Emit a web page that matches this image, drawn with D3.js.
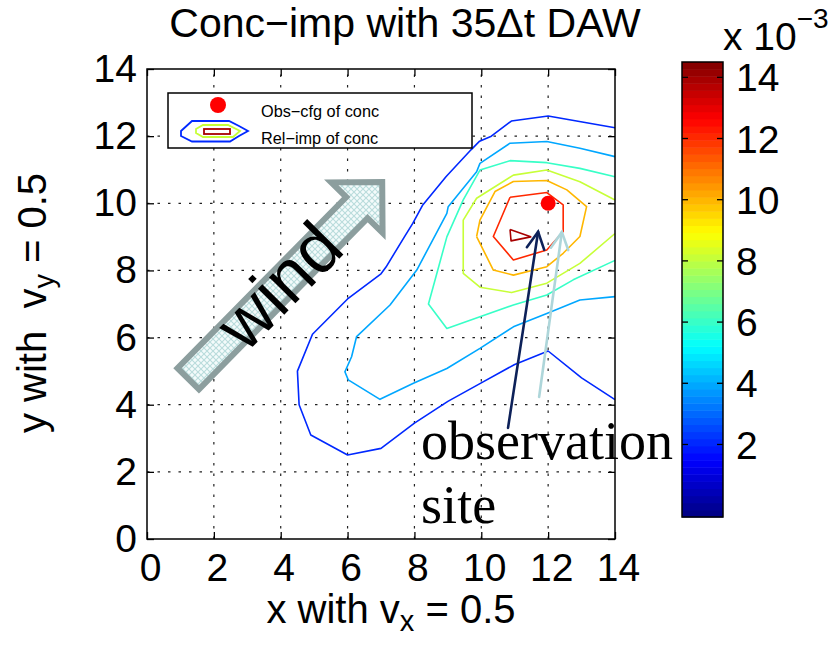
<!DOCTYPE html>
<html><head><meta charset="utf-8">
<script src="https://cdn.jsdelivr.net/npm/d3@7"></script>
<style>body{margin:0;background:#fff}</style>
</head><body>
<svg id="chart" width="831" height="649"></svg>
<script>
// ---- data -------------------------------------------------------------
const xTicks = [0, 2, 4, 6, 8, 10, 12, 14];
const yTicks = [0, 2, 4, 6, 8, 10, 12, 14];
const cbTicks = [2, 4, 6, 8, 10, 12, 14];          // colour bar, ×10^-3
const cbRange = [-0.37, 14.5];                     // colour limits, ×10^-3
const levels = [2, 4, 6, 8, 10, 12, 14];           // contour levels, ×10^-3

// contour lines of the relative concentration improvement, [x, y] grid units
const c2 = [[14,12.25],[12,12.6],[10.9,12.45],[10.3,12.0],[9.95,11.85],[9.7,11.6],[8.95,10.8],[8.25,9.95],[7.95,9.4],[7.7,9.0],[7.15,8.1],[7.0,7.9],[6.0,7.15],[4.95,6.1],[4.5,5.0],[4.55,4.0],[4.9,3.1],[6.0,2.5],[7.0,2.7],[8.0,3.45],[9.0,4.1],[10.0,4.65],[11.0,5.2],[12.0,5.6],[13.0,4.8],[14,4.15]];
const c4 = [[14,11.39],[12.95,11.64],[11.96,11.84],[10.86,11.79],[9.96,11.19],[9.86,10.94],[9.01,9.9],[8.97,9.7],[8.07,8.01],[7.27,6.97],[6.27,6.03],[6.12,5.43],[5.92,4.98],[6.02,4.74],[6.97,4.16],[7.97,4.64],[8.97,5.08],[9.96,5.68],[10.96,6.32],[11.96,6.72],[12.95,7.12],[14,7.22]];
const c6 = [[14,10.79],[12.95,11.04],[11.96,11.21],[10.86,11.27],[9.96,10.99],[9.46,10.1],[8.97,9.0],[8.67,7.91],[8.42,7.0],[8.97,6.27],[9.96,6.62],[10.96,6.97],[11.96,7.27],[12.75,7.72],[14,8.3]];
const c8 = [[14,10.1],[12.95,10.64],[11.96,10.99],[10.96,10.84],[9.86,10.15],[9.46,9.5],[9.46,7.91],[9.96,7.5],[10.91,7.34],[11.96,7.62],[12.95,8.21],[14,9.1]];
const c10 = [[9.86,9.01],[9.96,9.5],[10.41,10.35],[10.96,10.65],[11.96,10.68],[12.56,10.4],[13.15,9.9],[12.95,9.01],[12.45,8.51],[11.96,8.11],[10.96,7.86],[10.36,8.01],[9.86,9.01]];
const c12 = [[10.86,10.18],[11.96,10.32],[12.45,9.95],[12.45,9.16],[11.96,8.61],[10.96,8.31],[10.36,9.01],[10.86,10.18]];
const c14 = [[10.86,9.22],[11.48,9.0],[10.89,8.88],[10.86,9.22]];
const contourLines = [c2, c4, c6, c8, c10, c12, c14];

const obsSite = [12, 10];                          // observation configuration
const windArrow = {tail: [1.17, 4.71], tip: [7.12, 10.72], label: [4.01, 7.48]};
const siteArrows = [
  {tail: [10.8, 3.31], tip: [11.70, 9.15], color: "#0d2159"},
  {tail: [11.73, 4.23], tip: [12.41, 9.14], color: "#aed6da"}
];
const siteLabel = {pos: [8.2, 2.38], lines: ["observation", "site"]};

// ---- layout -----------------------------------------------------------
const svg = d3.select("#chart");
const x = d3.scaleLinear([0, 14], [147, 615]);
const y = d3.scaleLinear([0, 14], [539, 69]);
const cbY = d3.scaleLinear(cbRange, [517, 62]);
const cbX0 = 682, cbX1 = 723;
const SANS = "'Liberation Sans', Arial, Helvetica, sans-serif";
const SERIF = "'Liberation Serif', 'Times New Roman', serif";

// MATLAB-style jet colour map with 64 entries
function jet(t) {
  const k = Math.min(63, Math.max(0, Math.floor(t * 64)));
  const v = (k + 0.5) / 64;
  const c = f => Math.round(255 * Math.max(0, Math.min(1, f)));
  return d3.rgb(c(1.5 - Math.abs(4 * v - 3)), c(1.5 - Math.abs(4 * v - 2)), c(1.5 - Math.abs(4 * v - 1)));
}
const levelColor = v => jet((v - cbRange[0]) / (cbRange[1] - cbRange[0]));

// ---- grid -------------------------------------------------------------
const grid = svg.append("g").attr("stroke", "#222").attr("stroke-width", 1.2).attr("stroke-dasharray", "2.5,8");
xTicks.filter(t => t > 0 && t < 14).forEach(t =>
  grid.append("line").attr("x1", x(t)).attr("x2", x(t)).attr("y1", y(0)).attr("y2", y(14)));
yTicks.filter(t => t > 0 && t < 14).forEach(t =>
  grid.append("line").attr("y1", y(t)).attr("y2", y(t)).attr("x1", x(0)).attr("x2", x(14)));

// ---- contours ---------------------------------------------------------
const line = d3.line().x(d => x(d[0])).y(d => y(d[1]));
const plot = svg.append("g");
contourLines.forEach((pts, i) => {
  plot.append("path").attr("d", line(pts)).attr("fill", "none")
    .attr("stroke", levelColor(levels[i])).attr("stroke-width", 1.6).attr("stroke-linejoin", "round");
});

// observation configuration
plot.append("circle").attr("cx", x(obsSite[0])).attr("cy", y(obsSite[1])).attr("r", 7.5).attr("fill", "#ff0000");

// ---- axes -------------------------------------------------------------
const fontAxis = 39;
function styleAxis(g) {
  g.select(".domain").remove();
  g.selectAll(".tick line").attr("stroke", "#000").attr("stroke-width", 1.3);
  g.selectAll("text").attr("font-family", SANS).attr("font-size", fontAxis).attr("fill", "#000");
}
svg.append("g").attr("transform", `translate(0,${y(0)})`)
  .call(d3.axisBottom(x).tickValues(xTicks).tickSizeInner(-7).tickSizeOuter(0).tickPadding(14).tickFormat(d3.format("d")))
  .call(styleAxis).selectAll("text").attr("dx", 3);
svg.append("g").attr("transform", `translate(${x(0)},0)`)
  .call(d3.axisLeft(y).tickValues(yTicks).tickSizeInner(-7).tickSizeOuter(0).tickPadding(10).tickFormat(d3.format("d")))
  .call(styleAxis);
svg.append("g").attr("transform", `translate(0,${y(14)})`)
  .call(d3.axisTop(x).tickValues(xTicks).tickSizeInner(-7).tickSizeOuter(0).tickFormat(""))
  .call(styleAxis);
svg.append("g").attr("transform", `translate(${x(14)},0)`)
  .call(d3.axisRight(y).tickValues(yTicks).tickSizeInner(-7).tickSizeOuter(0).tickFormat(""))
  .call(styleAxis);
svg.append("rect").attr("x", x(0)).attr("y", y(14)).attr("width", x(14) - x(0)).attr("height", y(0) - y(14))
  .attr("fill", "none").attr("stroke", "#000").attr("stroke-width", 1.5);

// ---- title and axis labels -------------------------------------------
svg.append("text").attr("x", 405).attr("y", 37).attr("text-anchor", "middle")
  .attr("font-family", SANS).attr("font-size", 41).text("Conc\u2212imp with 35\u0394t DAW");

const xl = svg.append("text").attr("x", 391).attr("y", 623).attr("text-anchor", "middle")
  .attr("font-family", SANS).attr("font-size", 40);
xl.append("tspan").text("x with v");
xl.append("tspan").attr("font-size", 29).attr("dy", 8).text("x");
xl.append("tspan").attr("dy", -8).text(" = 0.5");

const yl = svg.append("text").attr("transform", "translate(46,303) rotate(-90)").attr("text-anchor", "middle")
  .attr("font-family", SANS).attr("font-size", 40).attr("xml:space", "preserve");
yl.append("tspan").text("y with  v");
yl.append("tspan").attr("font-size", 29).attr("dy", 8).text("y");
yl.append("tspan").attr("dy", -8).text(" = 0.5");

// ---- legend -----------------------------------------------------------
const lg = svg.append("g");
lg.append("rect").attr("x", 168).attr("y", 93).attr("width", 304).attr("height", 55)
  .attr("fill", "#fff").attr("stroke", "#000").attr("stroke-width", 1.5);
lg.append("circle").attr("cx", 218).attr("cy", 105).attr("r", 8).attr("fill", "#ff0000");
lg.append("polygon").attr("points", "181,131 192,121 229,121 239,126 248,131 239,136 230,141.5 192,141.5 181,136")
  .attr("fill", "none").attr("stroke", levelColor(2)).attr("stroke-width", 1.8);
lg.append("polygon").attr("points", "196,129 203,125 228,125 240,131 233,137 203,137 196,133")
  .attr("fill", "none").attr("stroke", levelColor(8)).attr("stroke-width", 1.8);
lg.append("rect").attr("x", 204).attr("y", 129).attr("width", 26).attr("height", 5)
  .attr("fill", "none").attr("stroke", levelColor(14)).attr("stroke-width", 1.8);
lg.append("text").attr("x", 261).attr("y", 117).attr("font-family", SANS).attr("font-size", 16.3).text("Obs\u2212cfg of conc");
lg.append("text").attr("x", 261).attr("y", 144).attr("font-family", SANS).attr("font-size", 16.3).text("Rel\u2212imp of conc");

// ---- wind arrow -------------------------------------------------------
const defs = svg.append("defs");
const pat = defs.append("pattern").attr("id", "hatch").attr("patternUnits", "userSpaceOnUse").attr("width", 6).attr("height", 6);
pat.append("rect").attr("width", 6).attr("height", 6).attr("fill", "#f4fbfb");
pat.append("path").attr("d", "M0,0L6,6M6,0L0,6").attr("stroke", "#b9dcdc").attr("stroke-width", 1.1);
{
  const T = [x(windArrow.tail[0]), y(windArrow.tail[1])];
  const P = [x(windArrow.tip[0]), y(windArrow.tip[1])];
  const L = Math.hypot(P[0] - T[0], P[1] - T[1]);
  const u = [(P[0] - T[0]) / L, (P[1] - T[1]) / L];
  const n = [-u[1], u[0]];
  const sw = 15, hw = 36, hl = 36;
  const tip = [P[0] - u[0] * 4, P[1] - u[1] * 4];
  const tl = [T[0] + u[0] * 3, T[1] + u[1] * 3];
  const base = [tip[0] - u[0] * hl, tip[1] - u[1] * hl];
  const pt = (p, k) => [p[0] + n[0] * k, p[1] + n[1] * k];
  const poly = [pt(tl, sw), pt(base, sw), pt(base, hw), tip, pt(base, -hw), pt(base, -sw), pt(tl, -sw)];
  svg.append("polygon").attr("points", poly.map(p => p.join(",")).join(" "))
    .attr("fill", "url(#hatch)").attr("stroke", "#8c9e9e").attr("stroke-width", 6).attr("stroke-linejoin", "miter");
  const ang = Math.atan2(u[1], u[0]) * 180 / Math.PI;
  svg.append("text").attr("transform", `translate(${x(windArrow.label[0])},${y(windArrow.label[1])}) rotate(${ang})`)
    .attr("text-anchor", "middle").attr("dy", "0.3em").attr("font-family", SANS).attr("font-size", 70).text("wind");
}

// ---- observation-site pointers ---------------------------------------
siteArrows.forEach(a => {
  const T = [x(a.tail[0]), y(a.tail[1])];
  const P = [x(a.tip[0]), y(a.tip[1])];
  const L = Math.hypot(P[0] - T[0], P[1] - T[1]);
  const u = [(T[0] - P[0]) / L, (T[1] - P[1]) / L];
  const rot = (v, a) => [v[0] * Math.cos(a) - v[1] * Math.sin(a), v[0] * Math.sin(a) + v[1] * Math.cos(a)];
  const b1 = rot(u, 0.48), b2 = rot(u, -0.48), bl = 19;
  const g = svg.append("g").attr("stroke", a.color).attr("stroke-width", 2.6).attr("fill", "none").attr("stroke-linecap", "round");
  g.append("line").attr("x1", T[0]).attr("y1", T[1]).attr("x2", P[0]).attr("y2", P[1]);
  g.append("path").attr("d", `M${P[0] + b1[0] * bl},${P[1] + b1[1] * bl}L${P[0]},${P[1]}L${P[0] + b2[0] * bl},${P[1] + b2[1] * bl}`);
});
const st = svg.append("text").attr("font-family", SERIF).attr("font-size", 54).attr("fill", "#000");
siteLabel.lines.forEach((s, i) =>
  st.append("tspan").attr("x", x(siteLabel.pos[0])).attr("y", y(siteLabel.pos[1]) + i * 64).text(s));

// ---- colour bar -------------------------------------------------------
const cb = svg.append("g");
const nBands = 64;
for (let k = 0; k < nBands; k++) {
  const v0 = cbRange[0] + (cbRange[1] - cbRange[0]) * k / nBands;
  const v1 = cbRange[0] + (cbRange[1] - cbRange[0]) * (k + 1) / nBands;
  cb.append("rect").attr("x", cbX0).attr("width", cbX1 - cbX0)
    .attr("y", cbY(v1)).attr("height", cbY(v0) - cbY(v1) + 0.5)
    .attr("fill", jet((k + 0.5) / nBands));
}
cbTicks.forEach(t => {
  cb.append("line").attr("x1", cbX0).attr("x2", cbX0 + 6).attr("y1", cbY(t)).attr("y2", cbY(t)).attr("stroke", "#000").attr("stroke-width", 1.3);
  cb.append("line").attr("x1", cbX1 - 6).attr("x2", cbX1).attr("y1", cbY(t)).attr("y2", cbY(t)).attr("stroke", "#000").attr("stroke-width", 1.3);
  cb.append("text").attr("x", 736).attr("y", cbY(t)).attr("dy", "0.36em")
    .attr("font-family", SANS).attr("font-size", fontAxis).text(t);
});
cb.append("rect").attr("x", cbX0).attr("y", cbY(cbRange[1])).attr("width", cbX1 - cbX0).attr("height", cbY(cbRange[0]) - cbY(cbRange[1]))
  .attr("fill", "none").attr("stroke", "#000").attr("stroke-width", 1.5);
const ex = svg.append("text").attr("x", 723).attr("y", 50).attr("font-family", SANS).attr("font-size", fontAxis);
ex.append("tspan").text("x 10");
ex.append("tspan").attr("font-size", 28).attr("dy", -22).text("\u22123");
</script>
</body></html>
